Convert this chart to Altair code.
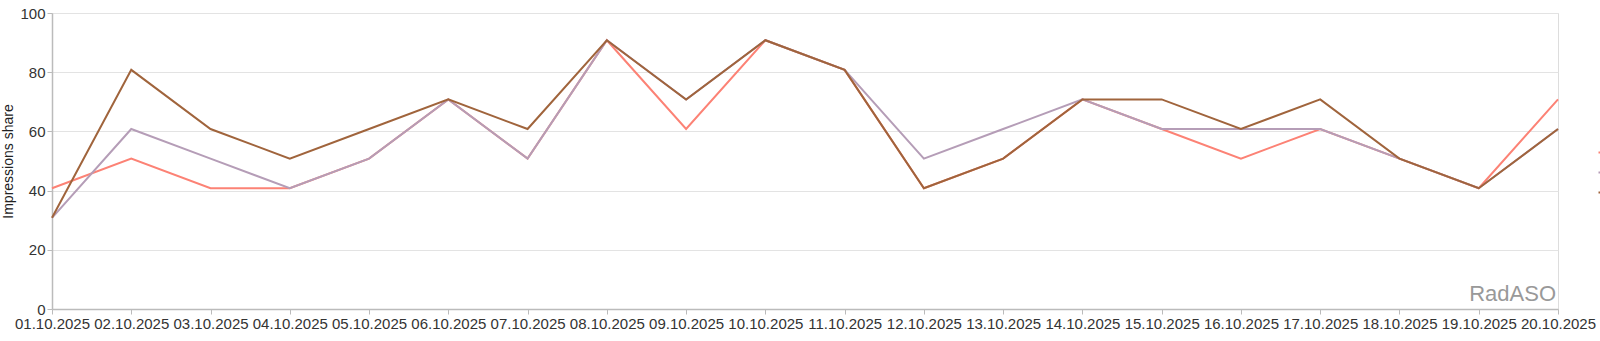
import altair as alt
import pandas as pd

dates = ["01.10.2025", "02.10.2025", "03.10.2025", "04.10.2025", "05.10.2025",
         "06.10.2025", "07.10.2025", "08.10.2025", "09.10.2025", "10.10.2025",
         "11.10.2025", "12.10.2025", "13.10.2025", "14.10.2025", "15.10.2025",
         "16.10.2025", "17.10.2025", "18.10.2025", "19.10.2025", "20.10.2025"]

series_names = ["Series 1", "Series 2", "Series 3"]
series_colors = ["#fc8275", "#b59db7", "#a0643c"]

s1 = [40.8, 50.8, 40.8, 40.8, 50.8, 70.8, 50.8, 90.8, 60.8, 90.8,
      80.8, 40.8, 50.8, 70.8, 60.8, 50.8, 60.8, 50.8, 40.8, 70.8]
s2 = [30.8, 60.8, 50.8, 40.8, 50.8, 70.8, 50.8, 90.8, 70.8, 90.8,
      80.8, 50.8, 60.8, 70.8, 60.8, 60.8, 60.8, 50.8, 40.8, 60.8]
s3 = [30.8, 80.8, 60.8, 50.8, 60.8, 70.8, 60.8, 90.8, 70.8, 90.8,
      80.8, 40.8, 50.8, 70.8, 70.8, 60.8, 70.8, 50.8, 40.8, 60.8]

y_ticks = [0, 20, 40, 60, 80, 100]
y_title = "Impressions share"
watermark = "RadASO"

rows = []
for name, vals in zip(series_names, [s1, s2, s3]):
    for d, v in zip(dates, vals):
        rows.append({"date": d, "value": v, "series": name, "order": series_names.index(name)})
df = pd.DataFrame(rows)

W, H = 1506, 296
PL, PT = 52, 13
FONT = "Liberation Sans"

lines = alt.Chart(df).mark_line(strokeWidth=2).encode(
    x=alt.X("date:N", sort=dates, scale=alt.Scale(padding=0),
            axis=alt.Axis(title=None, labelAngle=0, grid=False, labelFontSize=15,
                          labelColor="#333", labelPadding=2, tickSize=5,
                          domainColor="#bbb", tickColor="#bbb", domainWidth=1.5,
                          labelFont=FONT)),
    y=alt.Y("value:Q", scale=alt.Scale(domain=[0, 100], nice=False),
            axis=alt.Axis(title=y_title, values=y_ticks, labelFontSize=15,
                          labelColor="#333", labelPadding=2, tickSize=5,
                          domainColor="#bbb", tickColor="#bbb", domainWidth=1.5,
                          gridColor="#e3e3e3", titleFontSize=14,
                          titleFontWeight="normal", titleColor="#222",
                          titlePadding=4, labelFont=FONT, titleFont=FONT)),
    color=alt.Color("series:N", sort=series_names,
                    scale=alt.Scale(domain=series_names, range=series_colors),
                    legend=alt.Legend(title=None, orient="none", legendX=1545,
                                      legendY=133, symbolType="stroke",
                                      symbolStrokeWidth=2, labelFontSize=13,
                                      labelFont=FONT, rowPadding=6)),
    order=alt.Order("order:Q"),
    detail="series:N",
)

text = alt.Chart(pd.DataFrame({"t": [watermark]})).mark_text(
    align="right", baseline="bottom", fontSize=22, color="#999", font=FONT
).encode(text="t:N", x=alt.value(W - 2), y=alt.value(H - 3))

chart = alt.layer(lines, text).properties(
    width=W, height=H,
    autosize=alt.AutoSizeParams(type="none"),
    padding={"left": PL, "top": PT, "right": 1600 - PL - W, "bottom": 341 - PT - H},
).configure_view(stroke=None).configure(background="white")

chart.save("out.html", embed_options={"renderer": "svg", "actions": False})
